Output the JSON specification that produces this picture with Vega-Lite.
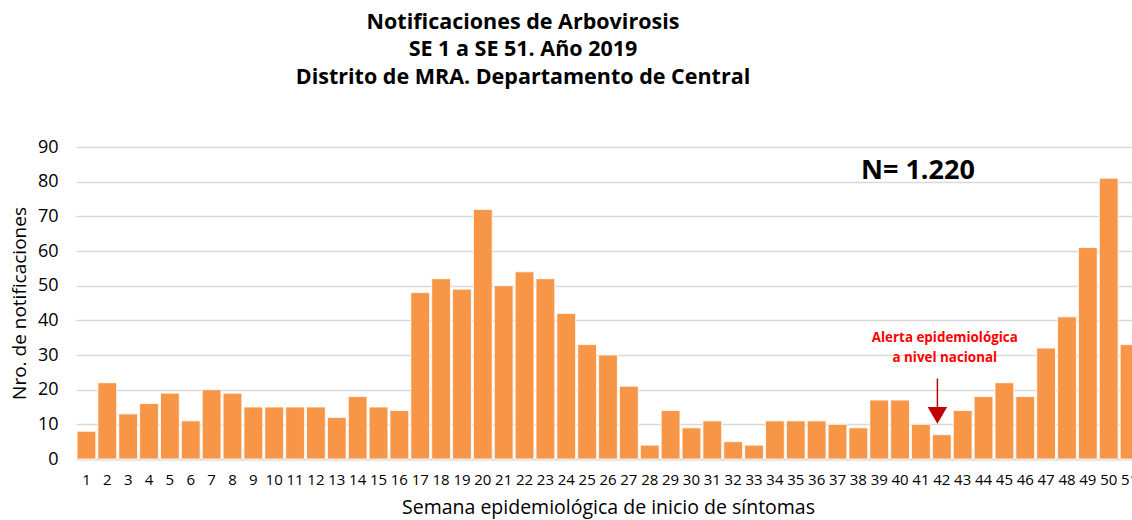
{
  "$schema": "https://vega.github.io/schema/vega-lite/v6.json",
  "width": 1056,
  "height": 312,
  "autosize": "none",
  "padding": {"left": 76, "top": 147, "right": 0, "bottom": 61},
  "config": {
    "view": {"stroke": null},
    "font": "Open Sans",
    "axisX": {
      "titleFontSize": 19.5,
      "titleFontWeight": "normal",
      "titleColor": "#000000",
      "titlePadding": 11,
      "labelAngle": 0,
      "labelFontSize": 15,
      "labelColor": "#000000",
      "labelPadding": 13,
      "labelOverlap": false,
      "labelBound": false,
      "ticks": false,
      "domainColor": "#D9D9D9",
      "domainWidth": 2,
      "grid": false
    },
    "axisY": {
      "titleFontSize": 19,
      "titleFontWeight": "normal",
      "titleColor": "#000000",
      "titlePadding": 8,
      "tickCount": 9,
      "labelFontSize": 18,
      "labelColor": "#000000",
      "labelPadding": 18,
      "labelOverlap": false,
      "ticks": false,
      "domain": false,
      "grid": true,
      "gridColor": "#D9D9D9",
      "gridWidth": 1.5
    }
  },
  "title": {
    "text": ["Notificaciones de Arbovirosis", "SE 1 a SE 51. Año 2019", "Distrito de MRA. Departamento de Central"],
    "fontSize": 21.5,
    "fontWeight": "bold",
    "lineHeight": 27.5,
    "anchor": "middle",
    "frame": "group",
    "dx": -81,
    "offset": 50,
    "color": "#000000",
    "font": "Open Sans"
  },
  "datasets": {
    "semanas": [
      {"semana": 1, "casos": 8}, {"semana": 2, "casos": 22}, {"semana": 3, "casos": 13}, {"semana": 4, "casos": 16},
      {"semana": 5, "casos": 19}, {"semana": 6, "casos": 11}, {"semana": 7, "casos": 20}, {"semana": 8, "casos": 19},
      {"semana": 9, "casos": 15}, {"semana": 10, "casos": 15}, {"semana": 11, "casos": 15}, {"semana": 12, "casos": 15},
      {"semana": 13, "casos": 12}, {"semana": 14, "casos": 18}, {"semana": 15, "casos": 15}, {"semana": 16, "casos": 14},
      {"semana": 17, "casos": 48}, {"semana": 18, "casos": 52}, {"semana": 19, "casos": 49}, {"semana": 20, "casos": 72},
      {"semana": 21, "casos": 50}, {"semana": 22, "casos": 54}, {"semana": 23, "casos": 52}, {"semana": 24, "casos": 42},
      {"semana": 25, "casos": 33}, {"semana": 26, "casos": 30}, {"semana": 27, "casos": 21}, {"semana": 28, "casos": 4},
      {"semana": 29, "casos": 14}, {"semana": 30, "casos": 9}, {"semana": 31, "casos": 11}, {"semana": 32, "casos": 5},
      {"semana": 33, "casos": 4}, {"semana": 34, "casos": 11}, {"semana": 35, "casos": 11}, {"semana": 36, "casos": 11},
      {"semana": 37, "casos": 10}, {"semana": 38, "casos": 9}, {"semana": 39, "casos": 17}, {"semana": 40, "casos": 17},
      {"semana": 41, "casos": 10}, {"semana": 42, "casos": 7}, {"semana": 43, "casos": 14}, {"semana": 44, "casos": 18},
      {"semana": 45, "casos": 22}, {"semana": 46, "casos": 18}, {"semana": 47, "casos": 32}, {"semana": 48, "casos": 41},
      {"semana": 49, "casos": 61}, {"semana": 50, "casos": 81}, {"semana": 51, "casos": 33}
    ],
    "alerta": [
      {"semana": 42, "y": 34.9, "texto": "Alerta epidemiológica"},
      {"semana": 42, "y": 29.1, "texto": "a nivel nacional"}
    ],
    "flecha": [{"semana": 42, "y1": 23.2, "y2": 13.5, "punta": 12.6}],
    "total": [{"semana": 41, "y": 83.2, "texto": "N= 1.220"}]
  },
  "layer": [
    {
      "data": {"name": "semanas"},
      "mark": {"type": "bar", "color": "#F79646", "stroke": "#FFFFFF", "strokeWidth": 0.8},
      "encoding": {
        "x": {
          "field": "semana",
          "type": "ordinal",
          "sort": "ascending",
          "scale": {"range": [0, 1064], "paddingInner": 0.1, "paddingOuter": 0.05},
          "title": "Semana epidemiológica de inicio de síntomas"
        },
        "y": {
          "field": "casos",
          "type": "quantitative",
          "scale": {"domain": [0, 90], "nice": false},
          "title": "Nro. de notificaciones"
        }
      }
    },
    {
      "data": {"name": "total"},
      "mark": {"type": "text", "fontSize": 27, "fontWeight": "bold", "color": "#000000", "baseline": "middle", "align": "center", "dx": -3},
      "encoding": {
        "x": {"field": "semana", "type": "ordinal"},
        "y": {"field": "y", "type": "quantitative"},
        "text": {"field": "texto"}
      }
    },
    {
      "data": {"name": "alerta"},
      "mark": {"type": "text", "fontSize": 13.4, "fontWeight": "bold", "color": "#FF0000", "baseline": "middle", "align": "center", "dx": 3},
      "encoding": {
        "x": {"field": "semana", "type": "ordinal"},
        "y": {"field": "y", "type": "quantitative"},
        "text": {"field": "texto"}
      }
    },
    {
      "data": {"name": "flecha"},
      "mark": {"type": "rule", "color": "#C00000", "strokeWidth": 1.5},
      "encoding": {
        "x": {"field": "semana", "type": "ordinal"},
        "xOffset": {"value": 5},
        "y": {"field": "y1", "type": "quantitative"},
        "y2": {"field": "y2"}
      }
    },
    {
      "data": {"name": "flecha"},
      "mark": {"type": "point", "shape": "triangle-down", "filled": true, "color": "#C00000", "size": 380, "opacity": 1},
      "encoding": {
        "x": {"field": "semana", "type": "ordinal"},
        "xOffset": {"value": 5},
        "y": {"field": "punta", "type": "quantitative"}
      }
    }
  ]
}
